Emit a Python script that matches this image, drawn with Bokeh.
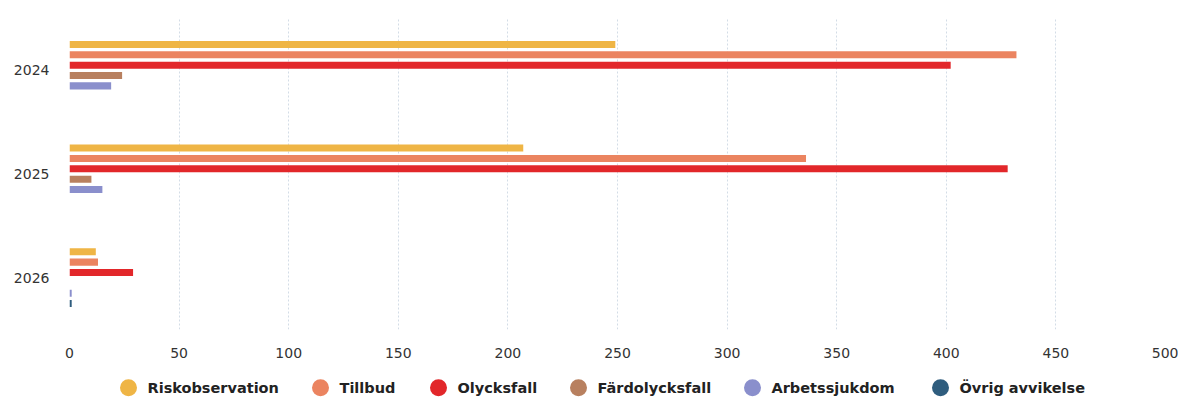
from bokeh.plotting import figure
from bokeh.models import ColumnDataSource, FactorRange, Range1d, FixedTicker
from bokeh.layouts import column
from bokeh.transform import dodge
from bokeh.core.properties import value
from bokeh.embed import file_html
from bokeh.resources import INLINE

years = ["2024", "2025", "2026"]
series_names = ["Riskobservation", "Tillbud", "Olycksfall", "Färdolycksfall",
                "Arbetssjukdom", "Övrig avvikelse"]
riskobservation = [249, 207, 12]
tillbud = [432, 336, 13]
olycksfall = [402, 428, 29]
fardolycksfall = [24, 10, 0]
arbetssjukdom = [19, 15, 1]
ovrig_avvikelse = [0, 0, 1]
x_ticks = [0, 50, 100, 150, 200, 250, 300, 350, 400, 450, 500]

colors = ["#EFB545", "#EB8460", "#E2272A", "#B8805F", "#8A8FCC", "#2F5D7E"]
values = [riskobservation, tillbud, olycksfall, fardolycksfall, arbetssjukdom, ovrig_avvikelse]
offsets = [0.25, 0.15, 0.05, -0.05, -0.15, -0.25]

data = {"year": years}
keys = ["s%d" % i for i in range(len(series_names))]
for k, v in zip(keys, values):
    data[k] = v
src = ColumnDataSource(data)

p = figure(y_range=FactorRange(factors=years[::-1]), x_range=Range1d(0, 500),
           width=1178, height=360, output_backend="svg", toolbar_location=None,
           min_border_left=69, min_border_right=13, min_border_top=18, min_border_bottom=30)
p.outline_line_color = None

for k, c, off in zip(keys, colors, offsets):
    p.hbar(y=dodge("year", off, range=p.y_range), left=0, right=k, height=0.068,
           source=src, fill_color=c, line_color=None)

p.xaxis.ticker = FixedTicker(ticks=x_ticks)
p.xaxis.axis_line_color = None
p.xaxis.major_tick_line_color = None
p.xaxis.minor_tick_line_color = None
p.xaxis.major_label_text_font = "DejaVu Sans"
p.xaxis.major_label_text_font_size = "14px"
p.xaxis.major_label_text_color = "#333333"
p.xaxis.major_label_standoff = 12

p.yaxis.axis_line_color = None
p.yaxis.major_tick_line_color = None
p.yaxis.minor_tick_line_color = None
p.yaxis.major_tick_out = 0
p.yaxis.major_label_text_font = "DejaVu Sans"
p.yaxis.major_label_text_font_size = "14px"
p.yaxis.major_label_text_color = "#333333"
p.yaxis.major_label_standoff = 20

p.ygrid.grid_line_color = None
p.xgrid.grid_line_color = "#d3dce6"
p.xgrid.grid_line_dash = "2 2"
p.xgrid.ticker = FixedTicker(ticks=x_ticks)

# legend strip (layout positions in page pixels; frame aligned with main plot)
legend_x = [128, 320, 438, 578, 752, 940]
lg = figure(width=1178, height=40, x_range=Range1d(69, 1165), y_range=Range1d(0, 1),
            output_backend="svg", toolbar_location=None,
            min_border_left=69, min_border_right=13, min_border_top=0, min_border_bottom=0)
lg.outline_line_color = None
lg.axis.visible = False
lg.grid.grid_line_color = None
lsrc = ColumnDataSource(dict(x=legend_x, tx=[v + 19 for v in legend_x],
                             y=[0.32] * 6, name=series_names, color=colors))
lg.scatter(x="x", y="y", size=17, fill_color="color", line_color=None, source=lsrc)
lg.text(x="tx", y="y", text="name", source=lsrc, text_baseline="middle",
        text_font=value("DejaVu Sans"), text_font_style="bold",
        text_font_size="14.5px", text_color="#222222")

open("out.html", "w").write(file_html(column(p, lg, spacing=0), INLINE))
